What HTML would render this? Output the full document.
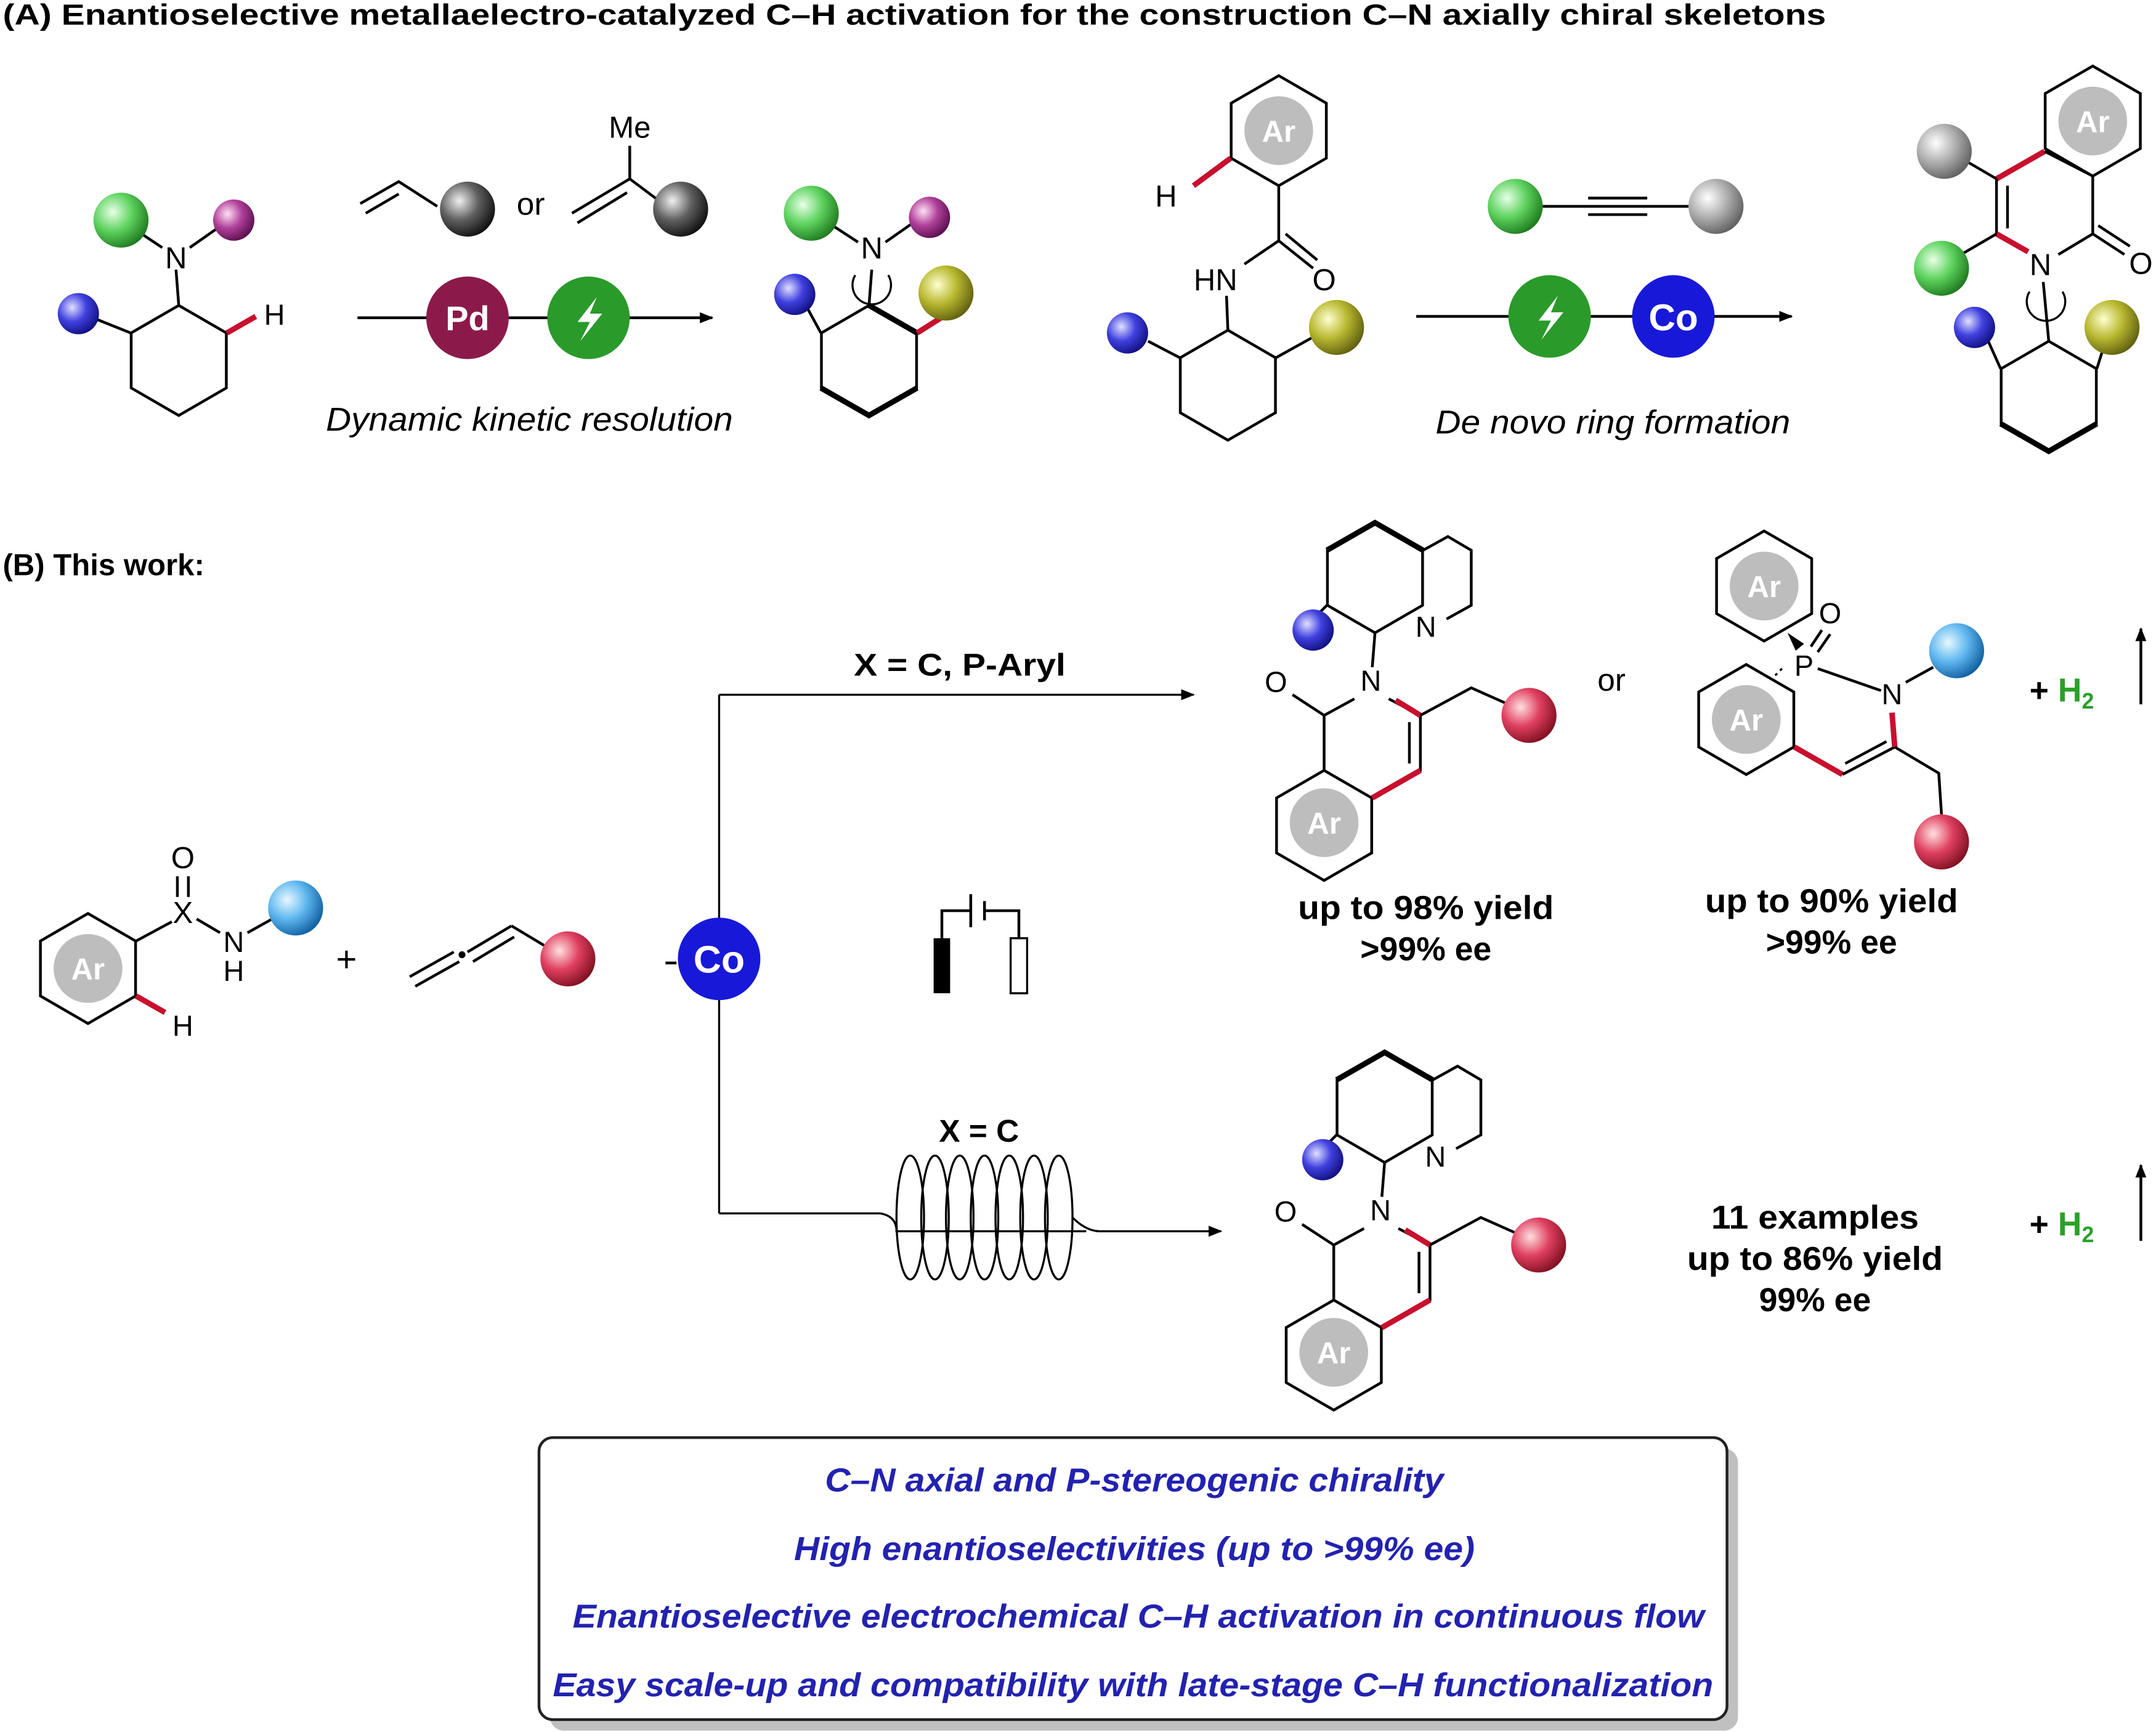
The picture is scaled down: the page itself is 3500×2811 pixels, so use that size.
<!DOCTYPE html>
<html><head><meta charset="utf-8"><style>
html,body{margin:0;padding:0;background:#fff;}
svg{display:block}
text{font-family:"Liberation Sans",Arial,sans-serif}
</style></head><body>
<svg width="3500" height="2811" viewBox="0 0 1568 1259" preserveAspectRatio="none" xmlns="http://www.w3.org/2000/svg">
<defs>
<radialGradient id="gG" cx="35%" cy="35%" r="70%"><stop offset="0" stop-color="#e8ffe8"/><stop offset="0.5" stop-color="#5fd35f"/><stop offset="1" stop-color="#1e7a1e"/></radialGradient>
<radialGradient id="gP" cx="35%" cy="35%" r="70%"><stop offset="0" stop-color="#ffe0f5"/><stop offset="0.5" stop-color="#b0409a"/><stop offset="1" stop-color="#5a1050"/></radialGradient>
<radialGradient id="gB" cx="35%" cy="35%" r="70%"><stop offset="0" stop-color="#e0e0ff"/><stop offset="0.5" stop-color="#4040e0"/><stop offset="1" stop-color="#101080"/></radialGradient>
<radialGradient id="gK" cx="35%" cy="35%" r="70%"><stop offset="0" stop-color="#f0f0f0"/><stop offset="0.5" stop-color="#606060"/><stop offset="1" stop-color="#101010"/></radialGradient>
<radialGradient id="gY" cx="35%" cy="35%" r="70%"><stop offset="0" stop-color="#ffffd0"/><stop offset="0.5" stop-color="#b8b830"/><stop offset="1" stop-color="#606010"/></radialGradient>
<radialGradient id="gR" cx="35%" cy="35%" r="70%"><stop offset="0" stop-color="#ffe0e0"/><stop offset="0.5" stop-color="#e04060"/><stop offset="1" stop-color="#801020"/></radialGradient>
<radialGradient id="gL" cx="35%" cy="35%" r="70%"><stop offset="0" stop-color="#e8f8ff"/><stop offset="0.5" stop-color="#60b8f0"/><stop offset="1" stop-color="#1060a0"/></radialGradient>
<radialGradient id="gS" cx="35%" cy="35%" r="70%"><stop offset="0" stop-color="#ffffff"/><stop offset="0.5" stop-color="#b0b0b0"/><stop offset="1" stop-color="#606060"/></radialGradient>
<polygon id="hx" points="0,-40 34.6,-20 34.6,20 0,40 -34.6,20 -34.6,-20" fill="none" stroke="#000" stroke-width="2"/>
<marker id="ar" markerWidth="10" markerHeight="8" refX="9" refY="4" orient="auto" markerUnits="userSpaceOnUse"><path d="M0,0 L10,4 L0,8 Z" fill="#000"/></marker>
</defs>
<text x="2" y="18" font-size="21" font-weight="bold" textLength="1326" lengthAdjust="spacingAndGlyphs">(A) Enantioselective metallaelectro-catalyzed C–H activation for the construction C–N axially chiral skeletons</text>

<!-- A left molecule -->
<use href="#hx" x="130" y="262"/>
<line x1="130" y1="222" x2="128" y2="196" stroke="#000" stroke-width="2"/>
<text x="128" y="195" font-size="22" text-anchor="middle">N</text>
<line x1="118" y1="180" x2="100" y2="168" stroke="#000" stroke-width="2"/>
<line x1="138" y1="180" x2="158" y2="166" stroke="#000" stroke-width="2"/>
<line x1="95" y1="242" x2="70" y2="232" stroke="#000" stroke-width="2"/>
<line x1="165" y1="242" x2="186" y2="230" stroke="#c8102e" stroke-width="4"/>
<text x="192" y="236" font-size="21">H</text>
<circle cx="88" cy="160" r="20" fill="url(#gG)"/>
<circle cx="170" cy="160" r="15" fill="url(#gP)"/>
<circle cx="57" cy="228" r="15" fill="url(#gB)"/>
<!-- reagents -->
<polyline points="262,148 290,132 318,150" fill="none" stroke="#000" stroke-width="2"/>
<line x1="266" y1="155" x2="290" y2="141" stroke="#000" stroke-width="2"/>
<circle cx="340" cy="152" r="20" fill="url(#gK)"/>
<text x="386" y="156" font-size="23" text-anchor="middle">or</text>
<text x="458" y="100" font-size="22" text-anchor="middle">Me</text>
<line x1="458" y1="106" x2="458" y2="130" stroke="#000" stroke-width="2"/>
<polyline points="416,155 458,130 478,145" fill="none" stroke="#000" stroke-width="2"/>
<line x1="420" y1="162" x2="456" y2="140" stroke="#000" stroke-width="2"/>
<circle cx="495" cy="152" r="20" fill="url(#gK)"/>
<line x1="260" y1="231" x2="518" y2="231" stroke="#000" stroke-width="2" marker-end="url(#ar)"/>
<circle cx="340" cy="231" r="30" fill="#8b1a4a"/>
<text x="340" y="240" font-size="25" font-weight="bold" fill="#fff" text-anchor="middle">Pd</text>
<circle cx="428" cy="231" r="30" fill="#2a9a2a"/>
<path d="M434,216 L420,234 L429,234 L422,248 L438,228 L429,228 Z" fill="#fff"/>
<text x="385" y="313" font-size="24" font-style="italic" text-anchor="middle" textLength="296" lengthAdjust="spacingAndGlyphs">Dynamic kinetic resolution</text>
<!-- product A1 -->
<use href="#hx" x="632" y="262"/>
<polyline points="597,282 632,302 667,282" fill="none" stroke="#000" stroke-width="4"/>
<line x1="667" y1="242" x2="632" y2="222" stroke="#000" stroke-width="4"/>
<line x1="667" y1="242" x2="686" y2="230" stroke="#c8102e" stroke-width="4"/>
<line x1="632" y1="222" x2="634" y2="196" stroke="#000" stroke-width="2"/>
<text x="634" y="188" font-size="22" text-anchor="middle">N</text>
<path d="M622,200 A14,14 0 1 0 646,200" fill="none" stroke="#000" stroke-width="1.5"/>
<line x1="624" y1="176" x2="604" y2="163" stroke="#000" stroke-width="2"/>
<line x1="644" y1="176" x2="664" y2="162" stroke="#000" stroke-width="2"/>
<line x1="597" y1="242" x2="585" y2="220" stroke="#000" stroke-width="2"/>
<circle cx="590" cy="155" r="20" fill="url(#gG)"/>
<circle cx="676" cy="158" r="15" fill="url(#gP)"/>
<circle cx="578" cy="214" r="15" fill="url(#gB)"/>
<circle cx="688" cy="213" r="20" fill="url(#gY)"/>
<!-- middle A -->
<use href="#hx" x="930" y="95"/>
<circle cx="930" cy="95" r="25" fill="#bdbdbd"/>
<text x="930" y="103" font-size="22" font-weight="bold" fill="#fff" text-anchor="middle">Ar</text>
<line x1="895" y1="115" x2="868" y2="135" stroke="#c8102e" stroke-width="4"/>
<text x="848" y="150" font-size="22" text-anchor="middle">H</text>
<line x1="930" y1="135" x2="930" y2="175" stroke="#000" stroke-width="2"/>
<line x1="930" y1="175" x2="955" y2="195" stroke="#000" stroke-width="2"/>
<line x1="935" y1="170" x2="958" y2="189" stroke="#000" stroke-width="2"/>
<text x="963" y="211" font-size="22" text-anchor="middle">O</text>
<line x1="930" y1="175" x2="905" y2="192" stroke="#000" stroke-width="2"/>
<text x="884" y="211" font-size="22" text-anchor="middle">HN</text>
<use href="#hx" x="893" y="280"/>
<line x1="893" y1="240" x2="892" y2="215" stroke="#000" stroke-width="2"/>
<line x1="858" y1="260" x2="835" y2="248" stroke="#000" stroke-width="2"/>
<line x1="928" y1="260" x2="955" y2="245" stroke="#000" stroke-width="2"/>
<circle cx="820" cy="242" r="15" fill="url(#gB)"/>
<circle cx="972" cy="238" r="20" fill="url(#gY)"/>
<circle cx="1102" cy="150" r="20" fill="url(#gG)"/>
<line x1="1122" y1="150" x2="1228" y2="150" stroke="#000" stroke-width="2"/>
<line x1="1155" y1="144" x2="1198" y2="144" stroke="#000" stroke-width="2"/>
<line x1="1155" y1="156" x2="1198" y2="156" stroke="#000" stroke-width="2"/>
<circle cx="1248" cy="150" r="20" fill="url(#gS)"/>
<line x1="1030" y1="230" x2="1303" y2="230" stroke="#000" stroke-width="2" marker-end="url(#ar)"/>
<circle cx="1127" cy="230" r="30" fill="#2a9a2a"/>
<path d="M1133,215 L1119,233 L1128,233 L1121,247 L1137,227 L1128,227 Z" fill="#fff"/>
<circle cx="1217" cy="230" r="30" fill="#1818d8"/>
<text x="1217" y="240" font-size="27" font-weight="bold" fill="#fff" text-anchor="middle">Co</text>
<text x="1173" y="315" font-size="24" font-style="italic" text-anchor="middle" textLength="258" lengthAdjust="spacingAndGlyphs">De novo ring formation</text>
<!-- product A2 -->
<use href="#hx" x="1522" y="88"/>
<circle cx="1522" cy="88" r="25" fill="#bdbdbd"/>
<text x="1522" y="96" font-size="22" font-weight="bold" fill="#fff" text-anchor="middle">Ar</text>
<line x1="1452" y1="130" x2="1487" y2="110" stroke="#c8102e" stroke-width="4"/>
<line x1="1487" y1="110" x2="1522" y2="128" stroke="#000" stroke-width="2"/>
<line x1="1452" y1="130" x2="1452" y2="170" stroke="#000" stroke-width="2"/>
<line x1="1460" y1="135" x2="1460" y2="166" stroke="#000" stroke-width="2"/>
<line x1="1452" y1="170" x2="1475" y2="183" stroke="#c8102e" stroke-width="4"/>
<line x1="1522" y1="128" x2="1522" y2="170" stroke="#000" stroke-width="2"/>
<line x1="1522" y1="170" x2="1497" y2="185" stroke="#000" stroke-width="2"/>
<line x1="1522" y1="170" x2="1545" y2="185" stroke="#000" stroke-width="2"/>
<line x1="1526" y1="164" x2="1549" y2="179" stroke="#000" stroke-width="2"/>
<text x="1484" y="200" font-size="22" text-anchor="middle">N</text>
<text x="1557" y="199" font-size="22" text-anchor="middle">O</text>
<line x1="1452" y1="130" x2="1428" y2="116" stroke="#000" stroke-width="2"/>
<line x1="1452" y1="170" x2="1428" y2="184" stroke="#000" stroke-width="2"/>
<circle cx="1414" cy="110" r="20" fill="url(#gS)"/>
<circle cx="1412" cy="195" r="20" fill="url(#gG)"/>
<use href="#hx" x="1490" y="288"/>
<line x1="1490" y1="248" x2="1486" y2="205" stroke="#000" stroke-width="2"/>
<path d="M1476,212 A14,14 0 1 0 1500,212" fill="none" stroke="#000" stroke-width="1.5"/>
<polyline points="1455,308 1490,328 1525,308" fill="none" stroke="#000" stroke-width="4"/>
<line x1="1455" y1="268" x2="1446" y2="248" stroke="#000" stroke-width="2"/>
<line x1="1525" y1="268" x2="1530" y2="252" stroke="#000" stroke-width="2"/>
<circle cx="1436" cy="238" r="15" fill="url(#gB)"/>
<circle cx="1536" cy="238" r="20" fill="url(#gY)"/>

<!-- B -->
<text x="2" y="418" font-size="22" font-weight="bold">(B) This work:</text>
<use href="#hx" x="64" y="704"/>
<circle cx="64" cy="704" r="25" fill="#bdbdbd"/>
<text x="64" y="712" font-size="22" font-weight="bold" fill="#fff" text-anchor="middle">Ar</text>
<line x1="99" y1="684" x2="125" y2="670" stroke="#000" stroke-width="2"/>
<text x="133" y="671" font-size="22" text-anchor="middle">X</text>
<text x="133" y="631" font-size="22" text-anchor="middle">O</text>
<line x1="129" y1="637" x2="129" y2="652" stroke="#000" stroke-width="2"/>
<line x1="137" y1="637" x2="137" y2="652" stroke="#000" stroke-width="2"/>
<line x1="143" y1="668" x2="160" y2="678" stroke="#000" stroke-width="2"/>
<text x="170" y="692" font-size="21" text-anchor="middle">N</text>
<text x="170" y="713" font-size="21" text-anchor="middle">H</text>
<line x1="180" y1="678" x2="198" y2="668" stroke="#000" stroke-width="2"/>
<circle cx="215" cy="660" r="20" fill="url(#gL)"/>
<line x1="99" y1="724" x2="120" y2="736" stroke="#c8102e" stroke-width="4"/>
<text x="133" y="753" font-size="21" text-anchor="middle">H</text>
<text x="252" y="706" font-size="26" text-anchor="middle">+</text>
<line x1="298" y1="710" x2="330" y2="692" stroke="#000" stroke-width="2"/>
<line x1="302" y1="717" x2="334" y2="699" stroke="#000" stroke-width="2"/>
<circle cx="336" cy="694" r="2.5" fill="#000"/>
<line x1="340" y1="692" x2="372" y2="673" stroke="#000" stroke-width="2"/>
<line x1="344" y1="699" x2="374" y2="681" stroke="#000" stroke-width="2"/>
<line x1="372" y1="673" x2="397" y2="688" stroke="#000" stroke-width="2"/>
<circle cx="413" cy="697" r="20" fill="url(#gR)"/>

<line x1="484" y1="700" x2="492" y2="700" stroke="#000" stroke-width="2"/>
<line x1="523" y1="505" x2="523" y2="882" stroke="#000" stroke-width="1.5"/>
<line x1="523" y1="505" x2="868" y2="505" stroke="#000" stroke-width="1.5" marker-end="url(#ar)"/>
<circle cx="523" cy="697" r="30" fill="#1818d8"/>
<text x="523" y="707" font-size="28" font-weight="bold" fill="#fff" text-anchor="middle">Co</text>
<text x="698" y="491" font-size="23" font-weight="bold" text-anchor="middle" textLength="154" lengthAdjust="spacingAndGlyphs">X = C, P-Aryl</text>
<!-- electrode -->
<polyline points="685,682 685,662 706,662" fill="none" stroke="#000" stroke-width="2"/>
<line x1="706" y1="650" x2="706" y2="674" stroke="#000" stroke-width="2"/>
<line x1="716" y1="655" x2="716" y2="669" stroke="#000" stroke-width="2"/>
<polyline points="716,662 741,662 741,682" fill="none" stroke="#000" stroke-width="2"/>
<rect x="679" y="682" width="12" height="40" fill="#000"/>
<rect x="735" y="682" width="12" height="40" fill="#fff" stroke="#000" stroke-width="1.5"/>
<!-- coil -->
<text x="712" y="830" font-size="23" font-weight="bold" text-anchor="middle">X = C</text>
<path d="M523,882 L640,882 Q652,884 652,895 L790,895" fill="none" stroke="#000" stroke-width="1.5"/>
<g fill="none" stroke="#000" stroke-width="1.5">
<ellipse cx="662" cy="885" rx="10" ry="45"/><ellipse cx="680" cy="885" rx="10" ry="45"/>
<ellipse cx="698" cy="885" rx="10" ry="45"/><ellipse cx="716" cy="885" rx="10" ry="45"/>
<ellipse cx="734" cy="885" rx="10" ry="45"/><ellipse cx="752" cy="885" rx="10" ry="45"/>
<ellipse cx="770" cy="885" rx="10" ry="45"/>
</g>
<path d="M780,885 Q790,895 800,895 L888,895" fill="none" stroke="#000" stroke-width="1.5" marker-end="url(#ar)"/>

<!-- product B1 -->
<g id="prodq">
<use href="#hx" x="1000" y="420"/>
<polyline points="965,400 1000,380 1035,400" fill="none" stroke="#000" stroke-width="4"/>
<polyline points="1035,400 1053,390 1070,400 1070,440 1052,450" fill="none" stroke="#000" stroke-width="2"/>
<text x="1037" y="463" font-size="21" text-anchor="middle">N</text>
<line x1="965" y1="440" x2="955" y2="450" stroke="#000" stroke-width="2"/>
<circle cx="955" cy="458" r="15" fill="url(#gB)"/>
<line x1="1000" y1="460" x2="998" y2="485" stroke="#000" stroke-width="2"/>
<text x="997" y="502" font-size="21" text-anchor="middle">N</text>
<use href="#hx" x="963" y="600"/>
<circle cx="963" cy="598" r="25" fill="#bdbdbd"/>
<text x="963" y="606" font-size="22" font-weight="bold" fill="#fff" text-anchor="middle">Ar</text>
<polyline points="998,580 1033,560 1033,520 1010,508" fill="none" stroke="#000" stroke-width="2"/>
<line x1="1033" y1="560" x2="998" y2="580" stroke="#c8102e" stroke-width="4"/>
<line x1="1033" y1="520" x2="1015" y2="509" stroke="#c8102e" stroke-width="4"/>
<line x1="1025" y1="525" x2="1025" y2="555" stroke="#000" stroke-width="2"/>
<polyline points="963,560 963,520 985,508" fill="none" stroke="#000" stroke-width="2"/>
<line x1="963" y1="520" x2="940" y2="505" stroke="#000" stroke-width="2"/>
<text x="928" y="503" font-size="21" text-anchor="middle">O</text>
<polyline points="1033,520 1070,500 1097,512" fill="none" stroke="#000" stroke-width="2"/>
<circle cx="1112" cy="520" r="20" fill="url(#gR)"/>
</g>
<text x="1037" y="668" font-size="24" font-weight="bold" text-anchor="middle" textLength="186" lengthAdjust="spacingAndGlyphs">up to 98% yield</text>
<text x="1037" y="698" font-size="24" font-weight="bold" text-anchor="middle">&gt;99% ee</text>
<text x="1172" y="502" font-size="23" text-anchor="middle">or</text>
<!-- product B2 -->
<use href="#hx" x="1283" y="426"/>
<circle cx="1283" cy="426" r="25" fill="#bdbdbd"/>
<text x="1283" y="434" font-size="22" font-weight="bold" fill="#fff" text-anchor="middle">Ar</text>
<polygon points="1300,460 1306,473 1312,468" fill="#000"/>
<text x="1312" y="491" font-size="21" text-anchor="middle">P</text>
<text x="1331" y="453" font-size="21" text-anchor="middle">O</text>
<line x1="1317" y1="470" x2="1325" y2="458" stroke="#000" stroke-width="2"/>
<line x1="1322" y1="474" x2="1331" y2="461" stroke="#000" stroke-width="2"/>
<line x1="1296" y1="486" x2="1288" y2="494" stroke="#000" stroke-width="1.5" stroke-dasharray="2,3"/>
<line x1="1322" y1="486" x2="1368" y2="502" stroke="#000" stroke-width="2"/>
<text x="1376" y="512" font-size="21" text-anchor="middle">N</text>
<line x1="1386" y1="496" x2="1406" y2="485" stroke="#000" stroke-width="2"/>
<circle cx="1423" cy="473" r="20" fill="url(#gL)"/>
<use href="#hx" x="1270" y="523"/>
<circle cx="1270" cy="523" r="25" fill="#bdbdbd"/>
<text x="1270" y="531" font-size="22" font-weight="bold" fill="#fff" text-anchor="middle">Ar</text>
<line x1="1305" y1="543" x2="1340" y2="563" stroke="#c8102e" stroke-width="4"/>
<line x1="1340" y1="563" x2="1378" y2="543" stroke="#000" stroke-width="2"/>
<line x1="1342" y1="555" x2="1372" y2="539" stroke="#000" stroke-width="2"/>
<line x1="1376" y1="518" x2="1378" y2="543" stroke="#c8102e" stroke-width="4"/>
<polyline points="1378,543 1410,562 1412,592" fill="none" stroke="#000" stroke-width="2"/>
<circle cx="1412" cy="612" r="20" fill="url(#gR)"/>
<text x="1332" y="663" font-size="24" font-weight="bold" text-anchor="middle" textLength="184" lengthAdjust="spacingAndGlyphs">up to 90% yield</text>
<text x="1332" y="693" font-size="24" font-weight="bold" text-anchor="middle">&gt;99% ee</text>
<text x="1476" y="510" font-size="24" font-weight="bold">+ <tspan fill="#2aa02a">H<tspan font-size="16" dy="5">2</tspan></tspan></text>
<line x1="1557" y1="512" x2="1557" y2="457" stroke="#000" stroke-width="2" marker-end="url(#ar)"/>
<!-- product B3 -->
<use href="#prodq" x="7" y="385"/>
<text x="1320" y="893" font-size="24" font-weight="bold" text-anchor="middle" textLength="151" lengthAdjust="spacingAndGlyphs">11 examples</text>
<text x="1320" y="923" font-size="24" font-weight="bold" text-anchor="middle" textLength="186" lengthAdjust="spacingAndGlyphs">up to 86% yield</text>
<text x="1320" y="953" font-size="24" font-weight="bold" text-anchor="middle">99% ee</text>
<text x="1476" y="898" font-size="24" font-weight="bold">+ <tspan fill="#2aa02a">H<tspan font-size="16" dy="5">2</tspan></tspan></text>
<line x1="1557" y1="902" x2="1557" y2="847" stroke="#000" stroke-width="2" marker-end="url(#ar)"/>
<!-- box -->
<rect x="400" y="1053" width="864" height="205" rx="10" fill="#c0c0c0"/>
<rect x="392" y="1045" width="864" height="205" rx="10" fill="#fff" stroke="#222" stroke-width="2"/>
<g font-size="24" font-style="italic" font-weight="bold" fill="#2222b0" text-anchor="middle" lengthAdjust="spacingAndGlyphs">
<text x="825" y="1084" textLength="450" lengthAdjust="spacingAndGlyphs">C–N axial and P-stereogenic chirality</text>
<text x="825" y="1134" textLength="495" lengthAdjust="spacingAndGlyphs">High enantioselectivities (up to &gt;99% ee)</text>
<text x="828" y="1183" textLength="823" lengthAdjust="spacingAndGlyphs">Enantioselective electrochemical C–H activation in continuous flow</text>
<text x="824" y="1233" textLength="844" lengthAdjust="spacingAndGlyphs">Easy scale-up and compatibility with late-stage C–H functionalization</text>
</g>
</svg>
</body></html>
